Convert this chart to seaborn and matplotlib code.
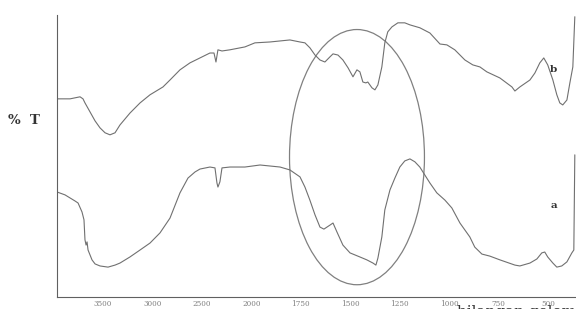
import numpy as np
import pandas as pd
import matplotlib
matplotlib.use("Agg")
import matplotlib.pyplot as plt
import seaborn as sns
from matplotlib.patches import Ellipse
from matplotlib.ticker import FixedLocator

# spektrum b (atas) : bilangan gelombang (cm-1) dan %T
wn_b = [3966, 3834, 3733, 3703, 3683, 3632, 3581, 3531, 3480, 3430, 3379, 3329,
        3228, 3126, 3025, 2894, 2823, 2722, 2621, 2520, 2419, 2378, 2358, 2338,
        2297, 2217, 2065, 1982, 1906, 1805, 1754, 1729, 1704, 1678, 1653, 1628,
        1602, 1587, 1562, 1537, 1511, 1486, 1466, 1451, 1436, 1421, 1411, 1390,
        1375, 1360, 1340, 1325, 1310, 1289, 1259, 1224, 1198, 1148, 1097, 1046,
        1011, 971, 920, 880, 844, 809, 743, 682, 667, 642, 591, 566, 541, 521,
        501, 475, 455, 440, 425, 404, 389, 374, 364]
t_b = [68.3, 68.3, 69.0, 68.3, 66.9, 63.8, 60.7, 58.3, 56.6, 55.9, 56.6, 59.3,
       63.4, 66.9, 69.7, 72.4, 74.8, 78.3, 80.7, 82.4, 84.1, 84.1, 81.0, 85.2,
       84.8, 85.2, 86.2, 87.6, 87.9, 88.6, 87.9, 87.6, 85.9, 83.4, 81.7, 81.0,
       82.8, 83.8, 83.4, 81.7, 79.0, 75.9, 78.3, 77.6, 74.1, 73.8, 74.1, 72.1,
       71.4, 73.1, 79.3, 87.6, 91.4, 93.1, 94.5, 94.5, 93.8, 92.8, 91.0, 87.2,
       86.9, 85.2, 81.7, 80.0, 79.3, 77.6, 75.5, 72.4, 71.0, 72.4, 74.8, 77.2,
       80.7, 82.4, 80.0, 74.8, 69.7, 66.9, 66.2, 67.9, 73.8, 79.3, 96.6]

# spektrum a (bawah)
wn_a = [3966, 3885, 3784, 3753, 3713, 3693, 3683, 3672, 3662, 3652, 3612, 3581,
        3531, 3450, 3379, 3329, 3228, 3126, 3025, 2924, 2823, 2722, 2641, 2570,
        2520, 2419, 2368, 2348, 2338, 2318, 2297, 2217, 2065, 1956, 1855, 1805,
        1754, 1729, 1704, 1678, 1653, 1633, 1602, 1587, 1567, 1537, 1501, 1451,
        1416, 1385, 1370, 1360, 1340, 1325, 1299, 1274, 1249, 1224, 1198, 1173,
        1148, 1123, 1097, 1062, 1021, 986, 945, 895, 870, 834, 794, 743, 667,
        642, 591, 556, 531, 516, 501, 475, 455, 430, 404, 379, 369, 364]
t_a = [36.2, 35.2, 33.1, 32.4, 29.3, 26.6, 19.7, 17.9, 19.0, 16.2, 12.8, 11.4,
       10.7, 10.3, 11.0, 11.7, 13.8, 16.2, 18.6, 22.1, 27.2, 35.9, 41.0, 43.1,
       44.1, 44.8, 44.5, 39.3, 37.9, 39.7, 44.5, 44.8, 44.8, 45.5, 44.8, 43.8,
       41.4, 37.9, 33.4, 28.3, 24.1, 23.4, 24.8, 25.5, 22.4, 17.9, 15.2, 13.8,
       12.8, 11.7, 11.0, 13.4, 20.7, 30.0, 36.9, 41.0, 44.8, 46.9, 47.6, 46.6,
       44.8, 42.1, 39.3, 35.9, 33.4, 30.7, 25.5, 20.7, 17.2, 14.8, 14.1, 12.8,
       11.0, 10.7, 11.7, 13.1, 15.2, 15.5, 13.8, 11.7, 10.3, 10.7, 12.1, 15.2,
       16.2, 49.0]

x_major = [3500, 3000, 2500, 2000, 1750, 1500, 1250, 1000, 750, 500]
x_labels = ["3500", "3000", "2500", "2000", "1750", "1500", "1250", "1000", "750", "500"]

df_b = pd.DataFrame({"wn": wn_b, "T": t_b})
df_a = pd.DataFrame({"wn": wn_a, "T": t_a})

sns.set_style("white")
plt.rcParams["font.family"] = ["DejaVu Serif"]


# skala FTIR: di bawah 2000 cm-1 diperlebar 2x
def fwd(w):
    w = np.asarray(w, dtype=float)
    return np.where(w >= 2000, w, 2 * w - 2000)


def inv(u):
    u = np.asarray(u, dtype=float)
    return np.where(u >= 2000, u, (u + 2000) / 2)


fig = plt.figure(figsize=(5.76, 3.09), dpi=100)
ax = fig.add_axes([57 / 576, 12 / 309, 519 / 576, 282 / 309])
ax.set_xscale("function", functions=(fwd, inv))

warna = "#707070"
sns.lineplot(data=df_b, x="wn", y="T", sort=False, estimator=None, ax=ax,
             color=warna, linewidth=0.8)
sns.lineplot(data=df_a, x="wn", y="T", sort=False, estimator=None, ax=ax,
             color=warna, linewidth=0.8)

ax.set_xlim(3966, 358)
ax.set_ylim(0, 97.2)

# elips penanda daerah 1750-1250
ax.add_patch(Ellipse((0.578, 0.496), 0.26, 0.905, transform=ax.transAxes,
                     fill=False, edgecolor="#808080", linewidth=0.9))

# sumbu
for s in ["top", "right"]:
    ax.spines[s].set_visible(False)
for s in ["left", "bottom"]:
    ax.spines[s].set_color("#606060")
    ax.spines[s].set_linewidth(0.8)

minor_x = list(range(3900, 2000, -100)) + list(range(1950, 350, -50))
minor_x = [m for m in minor_x if m not in x_major]
ax.xaxis.set_major_locator(FixedLocator(x_major))
ax.xaxis.set_minor_locator(FixedLocator(minor_x))
ax.set_xticklabels(x_labels, fontsize=5.2, color="#808080")
ax.tick_params(axis="x", which="major", direction="inout", length=3, width=0.5,
               color="#606060", pad=0.5)
ax.tick_params(axis="x", which="minor", direction="inout", length=2, width=0.5,
               color="#606060")

ax.yaxis.set_major_locator(FixedLocator(np.arange(10, 97, 10)))
ax.yaxis.set_minor_locator(FixedLocator(np.arange(2, 97, 2)))
ax.set_yticklabels([])
ax.tick_params(axis="y", which="major", direction="out", length=4, width=0.6,
               color="#606060")
ax.tick_params(axis="y", which="minor", direction="out", length=2.5, width=0.5,
               color="#606060")
ax.set_xlabel("")
ax.set_ylabel("")

fig.text(8 / 576, 1 - 121 / 309, "%  T", fontsize=9.5, fontweight="bold",
         va="center", ha="left", color="#333333")
fig.text(553 / 576, 1 - 69 / 309, "b", fontsize=7.5, fontweight="bold",
         va="center", ha="center", color="#333333")
fig.text(554 / 576, 1 - 205 / 309, "a", fontsize=7.5, fontweight="bold",
         va="center", ha="center", color="#333333")
fig.text(457 / 576, 1 - 305 / 309, "bilangan gelombang", fontsize=11,
         va="top", ha="left", color="#333333")

fig.savefig("out.png", dpi=100)
